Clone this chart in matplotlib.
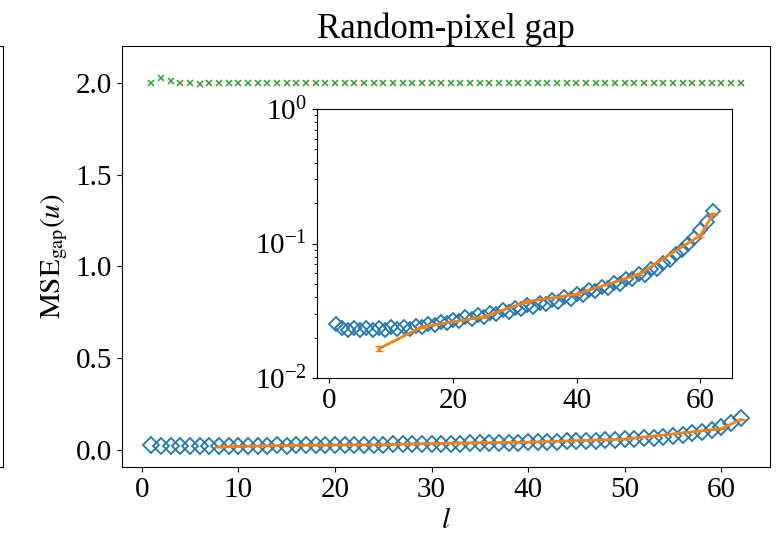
import matplotlib
matplotlib.use("Agg")
import matplotlib.pyplot as plt
import numpy as np

plt.rcParams["font.family"] = ["Liberation Serif", "DejaVu Serif"]
plt.rcParams["mathtext.fontset"] = "stix"
plt.rcParams["font.size"] = 21

# data
l_vals = list(range(1, 63))
mse_gap = [0.0250, 0.0236, 0.0228, 0.0237, 0.0227, 0.0236, 0.0228, 0.0237, 0.0229, 0.0238,
           0.0230, 0.0240, 0.0233, 0.0245, 0.0240, 0.0252, 0.0248, 0.0262, 0.0257, 0.0272,
           0.0266, 0.0282, 0.0276, 0.0292, 0.0286, 0.0304, 0.0297, 0.0318, 0.0310, 0.0333,
           0.0324, 0.0348, 0.0338, 0.0362, 0.0352, 0.0378, 0.0368, 0.0398, 0.0390, 0.0420,
           0.0412, 0.0448, 0.0440, 0.0478, 0.0470, 0.0510, 0.0500, 0.0548, 0.0540, 0.0590,
           0.0585, 0.0645, 0.0650, 0.0720, 0.0760, 0.0830, 0.0900, 0.0990, 0.1100, 0.1250,
           0.1450, 0.1750]
mse_other = [2.000, 2.025, 2.008, 2.000, 2.000, 1.995, 2.000, 2.000, 2.000, 2.000,
             2.000, 2.000, 2.000, 2.000, 2.000, 2.000, 2.000, 2.000, 2.000, 2.000,
             2.000, 2.000, 2.000, 2.000, 2.000, 2.000, 2.000, 2.000, 2.000, 2.000,
             2.000, 2.000, 2.000, 2.000, 2.000, 2.000, 2.000, 2.000, 2.000, 2.000,
             2.000, 2.000, 2.000, 2.000, 2.000, 2.000, 2.000, 2.000, 2.000, 2.000,
             2.000, 2.000, 2.000, 2.000, 2.000, 2.000, 2.000, 2.000, 2.000, 2.000,
             2.000, 2.000]
fit_l = [8, 15, 25, 32, 40, 50, 60, 62]
fit_mse = [0.0165, 0.0240, 0.0285, 0.0370, 0.0420, 0.0590, 0.1150, 0.1650]
fit_err = [0.0007, 0.0005, 0.0005, 0.0006, 0.0006, 0.0010, 0.0030, 0.0030]

fig = plt.figure(figsize=(7.77, 5.39), dpi=100)

# edge of the neighbouring panel, cut off by the crop
ax_prev = fig.add_axes([-0.5, 0.1336, 0.5 + 3 / 777, 0.781])
ax_prev.set_xticks([])
ax_prev.set_yticks([])

ax = fig.add_axes([122 / 777, 0.1336, 648 / 777, 0.781])
ax.plot(l_vals, mse_other, "x", color="C2", ms=5, mew=1.1)
ax.plot(l_vals, mse_gap, "D", color="C0", mfc="none", ms=8.5, mew=1.3)
ax.errorbar(fit_l, fit_mse, yerr=fit_err, color="C1", lw=2, capsize=3)
ax.set_ylim(-0.093, 2.2)
ax.set_yticks([0.0, 0.5, 1.0, 1.5, 2.0])
ax.set_xticks([0, 10, 20, 30, 40, 50, 60])
ax.set_xlabel("$l$")
ax.set_ylabel(r"$\mathrm{MSE}_{\mathrm{gap}}(u)$")
ax.set_title("Random-pixel gap", fontsize=25)

ins = fig.add_axes([316.7 / 777, 1 - 378 / 539, 415 / 777, 269 / 539])
ins.plot(l_vals, mse_gap, "D", color="C0", mfc="none", ms=7.5, mew=1.3)
ins.errorbar(fit_l, fit_mse, yerr=fit_err, color="C1", lw=2, capsize=3)
ins.set_yscale("log")
ins.set_ylim(1e-2, 1e0)
ins.set_xticks([0, 20, 40, 60])

fig.savefig("out.png", dpi=100)
